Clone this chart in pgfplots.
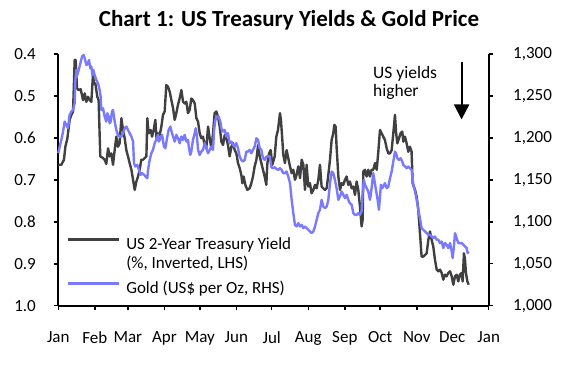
\documentclass[border=0pt]{standalone}
\usepackage{fontspec}
\setmainfont{Carlito}
\usepackage{pgfplots}
\pgfplotsset{compat=1.18}
\usetikzlibrary{arrows.meta}
\definecolor{yieldgray}{RGB}{64,64,64}
\definecolor{goldblue}{RGB}{122,122,255}
\pgfplotsset{goldleg/.style={legend image code/.code={\draw[##1] (0bp,-1.1bp) -- (51bp,-1.1bp);}}}
\begin{document}
\begin{tikzpicture}
\useasboundingbox (0,0) rectangle (578bp,367bp);
\pgfplotsset{
  common/.style={
    scale only axis, width=430.4bp, height=251.7bp,
    at={(58.3bp,61.3bp)}, anchor=south west,
    xmin=0, xmax=365,
    tick align=outside, major tick length=4bp,
    axis line style={line width=1.8bp, black},
    tick style={line width=1.5bp, black},
    tick label style={font=\fontsize{17bp}{17bp}\selectfont},
    /pgf/number format/assume math mode=true,
    clip=false,
  },
}
\begin{axis}[common,
  axis x line*=bottom, axis y line*=left,
  y dir=reverse, ymin=0.4, ymax=1.0,
  ytick={0.4,0.5,0.6,0.7,0.8,0.9,1.0},
  yticklabel style={xshift=-15bp, /pgf/number format/.cd, fixed, fixed zerofill, precision=1},
  xticklabel style={yshift=-18bp},
  xtick={0,31,59,90,120,151,181,212,243,273,304,334,365},
  xticklabels={Jan,Feb,Mar,Apr,May,Jun,Jul,Aug,Sep,Oct,Nov,Dec,Jan},
]
\addplot[yieldgray, line width=2.4bp, line join=round] coordinates {
(0,0.664)(2.6,0.664)(4.8,0.652)(6.0,0.621)(7.7,0.601)(9.6,0.557)(11.1,0.545)(12.5,0.537)(13.9,0.414)(14.7,0.414)
(15.9,0.482)(17.3,0.486)(19.0,0.484)(21.0,0.510)(22.4,0.494)(23.8,0.514)(25.2,0.502)(26.6,0.510)(28.0,0.514)(29.4,0.450)
(30.3,0.470)(31.4,0.470)(33.1,0.502)(34.2,0.510)(35.6,0.644)(37.9,0.648)(39.3,0.652)(40.7,0.662)(42.2,0.625)(43.6,0.644)
(45.0,0.637)(46.4,0.664)(47.8,0.629)(49.2,0.597)(50.6,0.621)(52.0,0.613)(53.5,0.553)(54.9,0.581)(56.3,0.601)(57.7,0.629)
(59.1,0.644)(60.5,0.660)(62.0,0.676)(63.4,0.700)(64.8,0.724)(66.2,0.704)(67.6,0.692)(69.0,0.676)(70.4,0.652)(71.8,0.652)
(73.3,0.648)(74.7,0.644)(75.5,0.553)(76.6,0.589)(78.3,0.581)(79.5,0.597)(80.9,0.581)(82.3,0.557)(83.4,0.605)(84.6,0.589)
(86.0,0.593)(87.4,0.573)(88.8,0.545)(90.2,0.537)(91.6,0.474)(93.0,0.478)(94.5,0.490)(95.9,0.510)(97.3,0.529)(98.7,0.557)
(100.1,0.541)(101.5,0.521)(102.9,0.506)(104.4,0.486)(105.8,0.514)(107.2,0.518)(108.6,0.514)(110.0,0.541)(111.4,0.533)(112.8,0.506)
(114.2,0.510)(115.7,0.518)(117.1,0.553)(118.5,0.561)(119.9,0.589)(121.3,0.601)(122.7,0.597)(124.1,0.617)(125.5,0.625)(127.0,0.573)
(128.4,0.601)(129.8,0.625)(131.2,0.589)(132.6,0.541)(134.0,0.537)(135.4,0.549)(136.9,0.573)(138.3,0.609)(139.7,0.617)(141.1,0.593)
(142.5,0.601)(143.9,0.617)(145.3,0.644)(146.8,0.621)(148.2,0.613)(149.6,0.629)(151.0,0.637)(152.4,0.660)(153.8,0.672)(155.2,0.688)
(156.1,0.708)(157.2,0.692)(158.6,0.712)(160.3,0.724)(162.3,0.720)(163.7,0.708)(165.1,0.692)(166.5,0.668)(168.0,0.652)(169.4,0.617)
(170.8,0.644)(172.2,0.660)(173.6,0.676)(175.0,0.692)(176.4,0.712)(177.3,0.660)(178.7,0.637)(180.1,0.629)(181.5,0.664)(183.5,0.644)
(184.9,0.597)(186.3,0.581)(188.0,0.541)(188.8,0.557)(190.0,0.605)(190.8,0.640)(192.2,0.660)(193.6,0.629)(195.0,0.648)(196.5,0.668)
(197.9,0.684)(199.3,0.676)(200.7,0.700)(202.1,0.688)(203.5,0.668)(205.0,0.696)(206.4,0.652)(207.8,0.664)(209.2,0.724)(210.6,0.664)
(212.0,0.716)(213.4,0.708)(214.8,0.732)(216.3,0.724)(217.7,0.712)(219.1,0.720)(220.5,0.700)(221.9,0.664)(223.3,0.716)(224.7,0.720)
(226.1,0.724)(227.6,0.720)(229.0,0.688)(230.4,0.652)(231.8,0.605)(233.2,0.589)(234.1,0.569)(235.2,0.573)(236.0,0.621)(237.5,0.692)
(238.9,0.724)(240.3,0.708)(241.7,0.712)(243.1,0.700)(244.5,0.692)(245.9,0.712)(247.3,0.704)(248.8,0.720)(250.2,0.716)(251.6,0.736)
(253.0,0.704)(254.4,0.724)(255.8,0.763)(257.2,0.811)(258.1,0.795)(258.7,0.680)(260.1,0.676)(261.5,0.692)(262.9,0.676)(264.3,0.692)
(265.7,0.676)(267.1,0.676)(268.6,0.660)(270.0,0.676)(271.4,0.633)(272.8,0.581)(274.2,0.589)(275.6,0.597)(277.0,0.605)(278.5,0.625)
(279.9,0.637)(281.3,0.637)(282.7,0.629)(284.1,0.589)(285.5,0.545)(286.4,0.585)(287.5,0.613)(288.9,0.601)(290.3,0.589)(291.7,0.585)
(292.6,0.609)(294.0,0.597)(295.4,0.613)(296.8,0.633)(298.2,0.621)(299.6,0.633)(300.5,0.708)(302.5,0.724)(303.9,0.740)(305.3,0.771)
(306.7,0.827)(308.1,0.883)(309.5,0.883)(311.0,0.879)(312.4,0.875)(313.8,0.843)(315.2,0.823)(316.6,0.843)(318.0,0.859)(319.4,0.890)
(320.9,0.914)(322.3,0.918)(323.7,0.914)(325.1,0.922)(326.5,0.938)(327.9,0.926)(329.3,0.930)(330.7,0.922)(332.2,0.918)(333.6,0.930)
(335.0,0.950)(336.4,0.930)(337.8,0.926)(339.2,0.942)(340.6,0.926)(342.1,0.922)(342.9,0.942)(344.0,0.875)(344.9,0.890)(345.7,0.922)
(346.9,0.942)(348.0,0.950)
};
\end{axis}
\begin{axis}[common,
  axis y line*=right, axis x line=none,
  ymin=1000, ymax=1300,
  ytick={1000,1050,1100,1150,1200,1250,1300},
  yticklabel style={xshift=17bp, /pgf/number format/.cd, 1000 sep={,}},
  legend style={at={(0.02,0.279)}, anchor=north west, draw=none, fill=none,
    inner sep=0pt, outer sep=0pt,
    font=\fontsize{17bp}{17bp}\selectfont, row sep=0pt, column sep=4bp,
    nodes={inner ysep=0pt, text height=14bp, text depth=4.7bp}},
  legend cell align=left,
  legend image code/.code={\draw[#1] (0bp,5.5bp) -- (51bp,5.5bp);},
]
\addlegendimage{yieldgray, line width=2.4bp}
\addlegendentry{US 2-Year Treasury Yield}
\addlegendimage{empty legend}
\addlegendentry{(\%, Inverted, LHS)}
\addplot[goldblue, line width=2.4bp, line join=round, goldleg] coordinates {
(0,1181.7)(1.2,1189.7)(2.6,1197.6)(4.0,1207.5)(5.4,1219.4)(6.8,1215.5)(8.2,1211.5)(9.6,1227.4)(11.1,1231.4)(12.5,1233.3)
(13.9,1241.3)(14.4,1267.1)(15.3,1281.0)(16.1,1275.0)(17.3,1281.0)(18.7,1288.9)(20.1,1296.8)(21.5,1298.8)(22.4,1294.8)(23.8,1286.9)
(25.2,1288.9)(26.0,1292.9)(27.2,1283.0)(28.0,1285.0)(28.9,1275.0)(29.7,1281.0)(30.8,1275.0)(32.3,1269.0)(33.7,1265.1)(35.1,1257.1)
(35.9,1249.2)(36.5,1233.3)(37.9,1235.3)(39.3,1225.4)(40.7,1219.4)(41.6,1229.4)(42.7,1225.4)(43.6,1217.5)(44.4,1219.4)(45.5,1231.4)
(46.4,1233.3)(47.8,1219.4)(49.2,1209.5)(50.6,1203.6)(52.0,1201.6)(53.5,1201.6)(54.9,1205.6)(56.3,1211.5)(57.7,1213.5)(59.1,1209.5)
(60.5,1205.6)(62.0,1201.6)(63.4,1195.6)(64.2,1169.8)(65.3,1165.9)(67.0,1167.9)(68.4,1161.9)(69.9,1156.0)(71.0,1158.0)(72.7,1156.0)
(74.1,1154.0)(75.5,1152.0)(76.1,1161.9)(77.5,1173.8)(78.9,1181.7)(80.3,1185.7)(81.7,1193.7)(83.1,1197.6)(84.6,1203.6)(85.4,1195.6)
(86.5,1199.6)(88.0,1203.6)(89.6,1189.7)(90.8,1187.7)(92.2,1199.6)(93.6,1209.5)(95.0,1213.5)(96.4,1205.6)(97.8,1199.6)(98.7,1195.6)
(100.1,1203.6)(101.5,1199.6)(102.9,1193.7)(104.4,1201.6)(105.8,1197.6)(107.2,1203.6)(108.6,1195.6)(110.0,1197.6)(110.8,1187.7)(112.0,1179.8)
(112.8,1183.7)(114.2,1197.6)(115.7,1205.6)(116.5,1211.5)(117.6,1201.6)(118.5,1185.7)(119.9,1179.8)(121.3,1183.7)(122.7,1185.7)(124.1,1193.7)
(125.5,1187.7)(127.0,1181.7)(128.4,1185.7)(129.8,1189.7)(131.2,1185.7)(132.1,1209.5)(133.2,1221.4)(134.6,1225.4)(136.0,1225.4)(137.4,1219.4)
(138.3,1211.5)(139.7,1207.5)(141.1,1209.5)(142.5,1201.6)(143.9,1205.6)(145.3,1193.7)(146.8,1195.6)(148.2,1191.7)(149.6,1189.7)(151.0,1193.7)
(152.4,1187.7)(153.8,1177.8)(155.2,1173.8)(156.6,1171.8)(158.1,1173.8)(159.5,1183.7)(160.9,1183.7)(162.3,1185.7)(163.7,1181.7)(165.1,1185.7)
(166.5,1189.7)(168.0,1199.6)(169.4,1197.6)(170.8,1187.7)(172.2,1185.7)(173.6,1175.8)(175.0,1173.8)(176.4,1177.8)(177.8,1177.8)(179.3,1178.0)
(180.7,1165.0)(182.1,1164.0)(183.5,1165.0)(184.9,1163.0)(186.6,1161.9)(188.0,1163.9)(189.4,1161.9)(190.8,1157.9)(192.2,1157.9)(193.6,1159.9)
(195.0,1154.0)(196.5,1146.0)(197.9,1126.2)(199.3,1110.3)(200.7,1096.4)(202.1,1094.4)(203.5,1098.4)(205.0,1094.4)(206.4,1096.4)(207.8,1092.5)
(209.2,1094.4)(210.6,1092.5)(212.0,1090.5)(213.4,1088.5)(214.8,1086.5)(216.3,1088.5)(217.7,1094.4)(219.1,1102.4)(220.5,1110.3)(221.9,1114.3)
(223.3,1126.2)(224.7,1118.2)(226.1,1116.3)(227.6,1118.2)(229.0,1126.2)(230.4,1146.0)(231.8,1159.9)(233.2,1157.9)(234.6,1150.0)(236.0,1140.1)
(237.5,1126.2)(238.9,1130.2)(240.3,1136.1)(241.7,1132.2)(243.1,1128.2)(244.5,1132.2)(245.9,1126.2)(247.3,1122.2)(248.8,1120.2)(250.2,1110.3)
(251.6,1108.3)(253.0,1108.3)(254.4,1110.3)(255.8,1108.3)(257.2,1112.3)(258.1,1136.1)(259.2,1150.0)(260.1,1144.1)(261.5,1140.1)(262.9,1136.1)
(264.3,1126.2)(265.2,1134.1)(266.3,1148.0)(267.1,1157.9)(268.0,1150.0)(269.4,1138.1)(270.8,1126.2)(271.9,1114.3)(272.8,1130.2)(273.6,1144.1)
(274.8,1140.1)(275.6,1142.1)(277.0,1146.0)(278.5,1140.1)(279.9,1142.1)(281.3,1152.0)(282.7,1159.9)(284.1,1171.8)(285.5,1183.7)(286.4,1181.7)
(287.5,1175.8)(288.9,1173.8)(290.3,1175.8)(291.7,1171.8)(292.6,1167.9)(294.0,1165.9)(295.4,1163.9)(296.8,1165.9)(298.2,1163.9)(299.6,1161.9)
(301.1,1144.1)(302.5,1136.1)(303.9,1126.2)(305.3,1114.3)(306.7,1104.4)(308.1,1092.5)(309.5,1090.5)(311.0,1088.5)(312.4,1086.5)(313.8,1084.5)
(315.2,1084.5)(316.6,1082.5)(318.0,1080.6)(319.4,1082.5)(320.9,1078.6)(322.3,1078.6)(323.7,1074.6)(325.1,1076.6)(326.5,1068.7)(327.9,1074.6)
(329.3,1072.6)(330.7,1068.7)(332.2,1074.6)(333.6,1064.7)(334.4,1056.8)(335.5,1070.6)(336.4,1086.5)(337.8,1080.6)(339.2,1074.6)(340.6,1074.6)
(342.1,1074.6)(343.5,1072.6)(344.9,1070.6)(346.3,1068.7)(347.1,1062.7)(348.0,1064.7)
};
\addlegendentry{\raisebox{-6.6bp}{Gold (US\$ per Oz, RHS)}}
\node[anchor=north west, align=left, inner sep=0pt,
  font=\fontsize{17.5bp}{17.5bp}\selectfont] at (rel axis cs:0.731,0.95) {US yields\\higher};
\draw[line width=2bp, -{Triangle[width=15bp,length=15bp]}] (rel axis cs:0.937,0.968) -- (rel axis cs:0.937,0.74);
\end{axis}
\node[font=\bfseries\fontsize{23bp}{23bp}\selectfont, anchor=base] at (289bp,340bp) {Chart 1: US Treasury Yields \& Gold Price};
\end{tikzpicture}
\end{document}
